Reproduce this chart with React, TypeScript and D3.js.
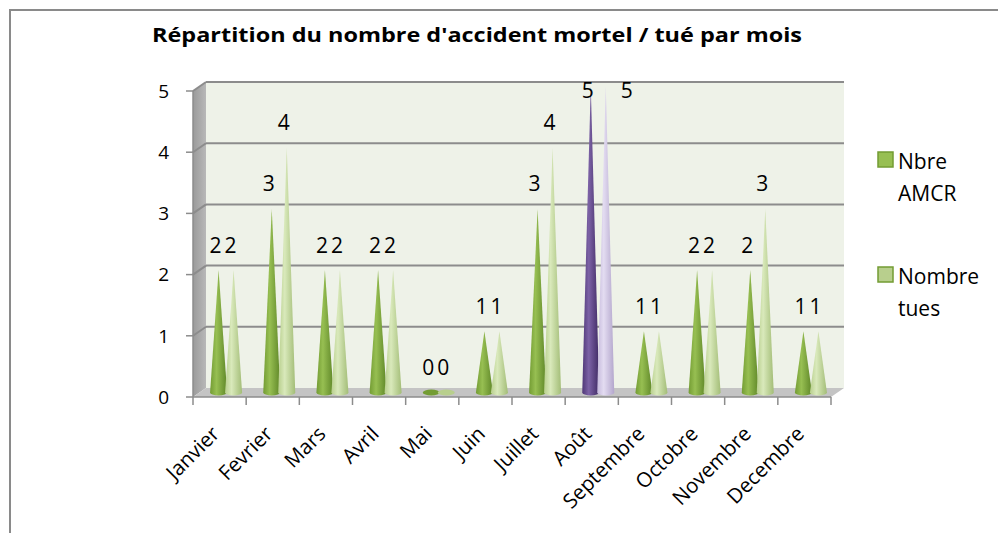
import * as d3 from "d3";

// month categories and the two series
const months = [
  "Janvier", "Fevrier", "Mars", "Avril", "Mai", "Juin",
  "Juillet", "Août", "Septembre", "Octobre", "Novembre", "Decembre",
];
const nbreAmcr = [2, 3, 2, 2, 0, 1, 3, 5, 1, 2, 2, 1];
const nombreTues = [2, 4, 2, 2, 0, 1, 4, 5, 1, 2, 3, 1];
const seriesNames = ["Nbre AMCR", "Nombre tues"];
const yTicks = [0, 1, 2, 3, 4, 5];
const highlightMonth = "Août";

const title = "Répartition du nombre d'accident mortel / tué par mois";
const FONT = "'Open Sans', 'Noto Sans', sans-serif";

// gradient stops: [edge, highlight, shadow]
const palettes: Record<string, string[]> = {
  g0: ["#739c33", "#97bf52", "#5f8728"],
  g1: ["#b8cf8d", "#d9e9bb", "#a3bd77"],
  p0: ["#4f3777", "#7c62a6", "#3f2a63"],
  p1: ["#c6badc", "#e3dcf1", "#b3a6cc"],
};

export default function App() {
  const W = 998;
  const H = 533;
  const x0 = 193;
  const x1 = 831;
  const depth = { dx: 13, dy: -9 };

  const x = d3.scaleBand<string>().domain(months).range([x0, x1]).padding(0);
  const sub = d3.scalePoint<number>().domain([0, 1]).range([-7.5, 7.5]);
  const y = d3.scaleLinear().domain([0, 5]).range([397, 91]);

  const halfW = 8.5;
  const ry = 3;
  const baseY = y(0) + depth.dy / 2;

  const series = [nbreAmcr, nombreTues];

  const cones = months.flatMap((m, i) =>
    series.map((vals, s) => {
      const v = vals[i];
      const cx = (x(m) ?? 0) + x.bandwidth() / 2 + depth.dx / 2 + (sub(s) ?? 0);
      const tip = y(v) + depth.dy / 2;
      const pal = (m === highlightMonth ? "p" : "g") + s;
      return { m, s, v, cx, tip, pal };
    })
  );

  const labelTop = 90;

  return (
    <div style={{ position: "absolute", left: 0, top: 0, width: W, height: H, overflow: "hidden" }}>
      <style>{"html,body{margin:0;overflow:hidden}"}</style>
      <svg width={W} height={H} style={{ display: "block", background: "#fff" }}>
        <defs>
          {Object.entries(palettes).map(([k, c]) => (
            <linearGradient key={k} id={"grad-" + k} x1="0" x2="1" y1="0" y2="0">
              <stop offset="0" stopColor={c[0]} />
              <stop offset="0.38" stopColor={c[1]} />
              <stop offset="1" stopColor={c[2]} />
            </linearGradient>
          ))}
          <linearGradient id="side" x1="0" x2="1" y1="0" y2="0">
            <stop offset="0" stopColor="#9a9a9a" />
            <stop offset="1" stopColor="#b8b8b8" />
          </linearGradient>
        </defs>

        {/* chart frame, runs off the right and bottom edges */}
        <path d="M10,560 L10,10 L1100,10" fill="none" stroke="#8a8a8a" strokeWidth={2} />

        <text
          x={477}
          y={42}
          textAnchor="middle"
          fontFamily={FONT}
          fontWeight="bold"
          fontSize={20}
          textLength={650}
          lengthAdjust="spacingAndGlyphs"
          fill="#000"
        >
          {title}
        </text>

        {/* back wall */}
        <polygon
          points={[
            [x0 + depth.dx, y(5) + depth.dy],
            [x1 + depth.dx, y(5) + depth.dy],
            [x1 + depth.dx, y(0) + depth.dy],
            [x0 + depth.dx, y(0) + depth.dy],
          ].join(" ")}
          fill="#eef2e8"
        />
        {/* side wall */}
        <polygon
          points={[
            [x0, y(5)],
            [x0 + depth.dx, y(5) + depth.dy],
            [x0 + depth.dx, y(0) + depth.dy],
            [x0, y(0)],
          ].join(" ")}
          fill="url(#side)"
        />
        {/* floor */}
        <polygon
          points={[
            [x0, y(0)],
            [x0 + depth.dx, y(0) + depth.dy],
            [x1 + depth.dx, y(0) + depth.dy],
            [x1, y(0)],
          ].join(" ")}
          fill="#c4c4c4"
        />

        {/* gridlines */}
        {yTicks.filter((t) => t > 0).map((t) => (
          <g key={"g" + t} stroke="#8c8c8c" strokeWidth={2} fill="none">
            <line x1={x0 + depth.dx} x2={x1 + depth.dx} y1={y(t) + depth.dy} y2={y(t) + depth.dy} />
            <line x1={x0} x2={x0 + depth.dx} y1={y(t)} y2={y(t) + depth.dy} />
          </g>
        ))}

        {/* y axis */}
        <line x1={x0} x2={x0} y1={y(5)} y2={y(0)} stroke="#8c8c8c" strokeWidth={1.5} />
        {yTicks.map((t) => (
          <g key={"y" + t}>
            <line x1={x0 - 7} x2={x0} y1={y(t)} y2={y(t)} stroke="#8c8c8c" strokeWidth={1.5} />
            <text
              x={169}
              y={y(t)}
              dy="0.36em"
              textAnchor="end"
              fontFamily={FONT}
              fontSize={19}
              fill="#000"
            >
              {t}
            </text>
          </g>
        ))}

        {/* x axis */}
        <line x1={x0} x2={x1} y1={y(0)} y2={y(0)} stroke="#8c8c8c" strokeWidth={1.5} />
        {[...months.map((m) => x(m) ?? 0), x1].map((px, i) => (
          <line key={"xt" + i} x1={px} x2={px} y1={y(0)} y2={y(0) + 8} stroke="#8c8c8c" strokeWidth={1.5} />
        ))}
        {months.map((m) => {
          const cx = (x(m) ?? 0) + x.bandwidth() / 2;
          return (
            <text
              key={"xl" + m}
              transform={`translate(${cx - 4},${y(0) + 33}) rotate(-45)`}
              textAnchor="end"
              dy="0.35em"
              fontFamily={FONT}
              fontSize={20.5}
              fill="#000"
            >
              {m}
            </text>
          );
        })}

        {/* cones */}
        {cones.map((c) =>
          c.v === 0 ? (
            <ellipse
              key={"c" + c.m + c.s}
              cx={c.cx}
              cy={baseY}
              rx={halfW}
              ry={ry}
              fill={palettes[c.pal][0]}
            />
          ) : (
            <path
              key={"c" + c.m + c.s}
              d={`M${c.cx - halfW},${baseY} L${c.cx},${c.tip} L${c.cx + halfW},${baseY} A${halfW},${ry} 0 0 1 ${c.cx - halfW},${baseY} Z`}
              fill={`url(#grad-${c.pal})`}
            />
          )
        )}

        {/* data labels */}
        {cones.map((c) => {
          const raw = c.tip - 25;
          const clamped = raw < labelTop;
          const lx = c.cx - 3 + (clamped && c.s === 1 ? 24 : 0);
          const ly = Math.max(raw, labelTop);
          return (
            <text
              key={"l" + c.m + c.s}
              x={lx}
              y={ly}
              dy="0.36em"
              textAnchor="middle"
              fontFamily={FONT}
              fontSize={21}
              fill="#000"
            >
              {c.v}
            </text>
          );
        })}

        {/* legend */}
        {seriesNames.map((name, s) => {
          const top = s === 0 ? 152 : 267;
          const words = name.split(" ");
          return (
            <g key={"lg" + s}>
              <rect
                x={878}
                y={top}
                width={15}
                height={15}
                fill={palettes["g" + s][s === 0 ? 1 : 0]}
                stroke={palettes.g0[0]}
                strokeWidth={1.5}
              />
              <text x={898} y={top + 17} fontFamily={FONT} fontSize={21} fill="#000">
                {words.map((w, k) => (
                  <tspan key={k} x={898} dy={k === 0 ? 0 : 32}>
                    {w}
                  </tspan>
                ))}
              </text>
            </g>
          );
        })}
      </svg>
    </div>
  );
}
